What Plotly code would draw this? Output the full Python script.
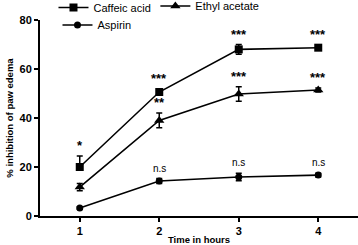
import plotly.graph_objects as go

hours = [1, 2, 3, 4]

caffeic = [20.0, 50.6, 68.0, 68.7]
caffeic_err_up = [4.5, 1.2, 2.0, 1.0]
caffeic_err_down = [0.0, 1.2, 2.0, 1.0]
caffeic_sig = ["*", "***", "***", "***"]

ethyl = [11.8, 39.0, 49.8, 51.4]
ethyl_err_up = [1.5, 3.0, 3.0, 0.8]
ethyl_err_down = [1.5, 3.0, 3.0, 0.8]
ethyl_sig = ["", "**", "***", "***"]

aspirin = [3.3, 14.3, 15.9, 16.7]
aspirin_err_up = [0.5, 1.0, 1.5, 0.8]
aspirin_err_down = [0.5, 1.0, 1.5, 0.8]
aspirin_sig = ["", "n.s", "n.s", "n.s"]

y_ticks = [0, 20, 40, 60, 80]

FONT = "Liberation Sans, Arial, sans-serif"

fig = go.Figure()

series = [
    ("Caffeic acid", caffeic, caffeic_err_up, caffeic_err_down, "square", 8, "legend"),
    ("Ethyl acetate", ethyl, ethyl_err_up, ethyl_err_down, "triangle-up", 9, "legend3"),
    ("Aspirin", aspirin, aspirin_err_up, aspirin_err_down, "circle", 7, "legend2"),
]

for name, vals, eu, ed, sym, msize, leg in series:
    fig.add_trace(go.Scatter(
        x=hours, y=vals, name=name, mode="lines+markers",
        line=dict(color="black", width=1.6),
        marker=dict(symbol=sym, size=msize, color="black"),
        error_y=dict(type="data", symmetric=False, array=eu, arrayminus=ed,
                     color="black", thickness=1.5, width=3),
        legend=leg,
    ))

annotations = []
for vals, eu, sigs in [(caffeic, caffeic_err_up, caffeic_sig),
                       (ethyl, ethyl_err_up, ethyl_sig),
                       (aspirin, aspirin_err_up, aspirin_sig)]:
    for xv, v, e, s in zip(hours, vals, eu, sigs):
        if not s:
            continue
        star = s.startswith("*")
        annotations.append(dict(
            x=xv, y=v + e, text=s, showarrow=False, xref="x", yref="y",
            yanchor="bottom", yshift=1 if star else 3,
            font=dict(family=FONT, size=13 if star else 10, color="black",
                      weight="bold" if star else "normal"),
        ))

leg_common = dict(orientation="h", xref="container", yref="container",
                  xanchor="left", yanchor="middle",
                  font=dict(family=FONT, size=11, color="black"),
                  bgcolor="rgba(0,0,0,0)", itemwidth=30)

fig.update_layout(
    width=358, height=245,
    margin=dict(l=40, r=0, t=20, b=29, autoexpand=False),
    paper_bgcolor="white", plot_bgcolor="white",
    font=dict(family=FONT, color="black"),
    annotations=annotations,
    showlegend=True,
    legend=dict(x=0.1494, y=1 - 7.5 / 245, **leg_common),
    legend3=dict(x=0.434, y=1 - 6 / 245, **leg_common),
    legend2=dict(x=0.1606, y=1 - 25 / 245, **leg_common),
    xaxis=dict(
        range=[0.5, 4.5], tickvals=hours, ticktext=[str(h) for h in hours],
        showgrid=False, zeroline=False, showline=True, linecolor="black", linewidth=2,
        ticks="outside", ticklen=4, tickwidth=1.5, tickcolor="black",
        tickfont=dict(family=FONT, size=11, color="black", weight="bold"),
        title=dict(text="Time in hours", standoff=2,
                   font=dict(family=FONT, size=9.5, color="black", weight="bold")),
    ),
    yaxis=dict(
        range=[0, 80], tickvals=y_ticks,
        showgrid=False, zeroline=False, showline=True, linecolor="black", linewidth=2,
        ticks="outside", ticklen=4, tickwidth=1.5, tickcolor="black",
        tickfont=dict(family=FONT, size=11, color="black", weight="bold"),
        title=dict(text="% inhibition of paw edema", standoff=4,
                   font=dict(family=FONT, size=9.5, color="black", weight="bold")),
    ),
)

fig.write_html("out.html", config={"displayModeBar": False},
               post_script="document.body.style.margin='0';")
